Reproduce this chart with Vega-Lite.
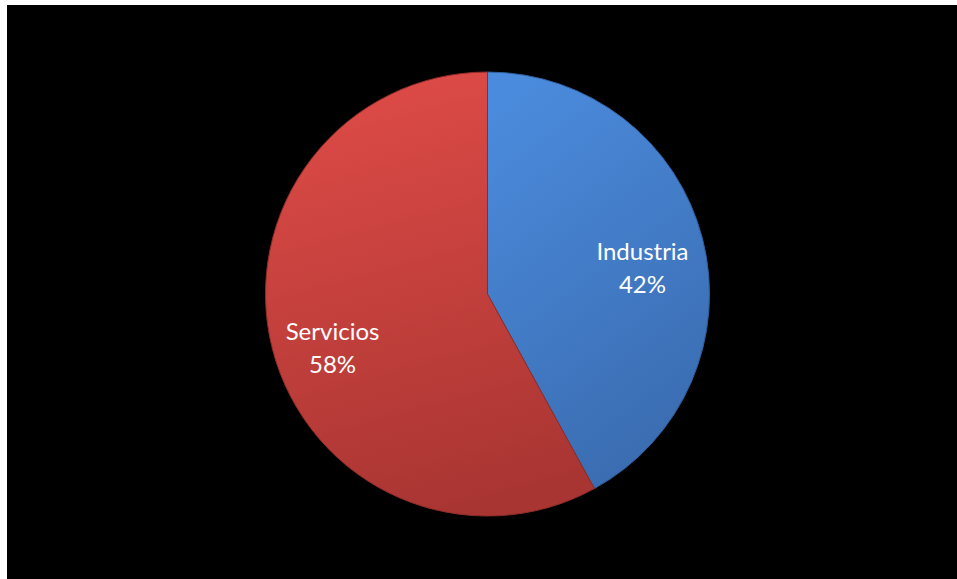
{
  "$schema": "https://vega.github.io/schema/vega-lite/v6.json",
  "autosize": {"type": "fit", "contains": "padding"},
  "width": 957,
  "height": 579,
  "padding": {"left": 7, "top": 5, "right": 0, "bottom": 0},
  "background": "white",
  "config": {"view": {"fill": "black", "stroke": null}},
  "data": {"values": [
    {"category": "Industria", "value": 0.42},
    {"category": "Servicios", "value": 0.58}
  ]},
  "encoding": {
    "theta": {"field": "value", "type": "quantitative", "stack": true},
    "x": {"value": 480.5},
    "y": {"value": 289}
  },
  "layer": [
    {
      "mark": {"type": "arc", "outerRadius": 222, "strokeWidth": 1},
      "encoding": {
        "fill": {
          "condition": {
            "test": "datum.category === 'Industria'",
            "value": {"gradient": "linear", "x1": 0.2, "y1": 0, "x2": 0.6, "y2": 1,
              "stops": [{"offset": 0, "color": "#4b8bdd"}, {"offset": 1, "color": "#3a6cb0"}]}
          },
          "value": {"gradient": "linear", "x1": 0.3, "y1": 0, "x2": 0.5, "y2": 1,
            "stops": [{"offset": 0, "color": "#de4b47"}, {"offset": 1, "color": "#a93532"}]}
        },
        "stroke": {
          "condition": {"test": "datum.category === 'Industria'", "value": "#2f5f9e"},
          "value": "#8f2c29"
        }
      }
    },
    {
      "mark": {"type": "text", "radius": 160, "dy": -1, "font": "Lato", "fontSize": 24, "color": "white", "baseline": "middle", "align": "center"},
      "encoding": {"text": {"field": "category", "type": "nominal"}}
    },
    {
      "mark": {"type": "text", "radius": 160, "dy": 32, "font": "Lato", "fontSize": 24, "color": "white", "baseline": "middle", "align": "center"},
      "encoding": {"text": {"field": "value", "type": "quantitative", "format": ".0%"}}
    }
  ]
}
